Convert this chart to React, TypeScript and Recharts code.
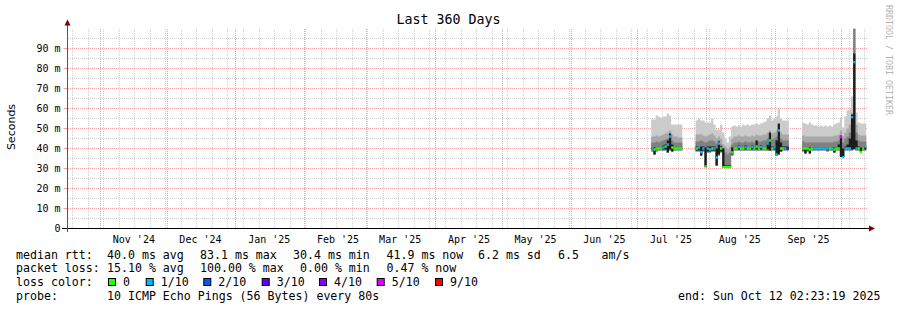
import React from 'react';
import { ComposedChart, Area, XAxis, YAxis, CartesianGrid } from 'recharts';

const TITLE = 'Last 360 Days';
const Y_LABEL = 'Seconds';
const WATERMARK = 'RRDTOOL / TOBI OETIKER';

// x axis: days since start of the 360-day window (Oct 17 2024 02:23)
const FIRST_DAY = 263;

// per-day smoke / median readings (ms), null = no data
const smokeHigh = [
  54.5, 54.5, 56.5, 56, 55.5, 56, 56, 57.5, 56.5, 52, 52, 52, 52, 52,
  null, null, null, null, null, null,
  54, 55, 54, 54, 53, 53, 53, 55, 52, 49.5, 49.5, 52, 48, 45, 43, 46, 51, 51.5, 51, 51.5,
  51, 52, 51.5, 52, 51.5, 52, 52, 52.5, 52, 52.5, 53, 53.5, 55, 56.5, 54, 55, 56, 60, 55, 54, 54, 54,
  null, null, null, null, null, null,
  53, 52.5, 52, 53, 52, 51.5, 51.5, 51, 51.5, 51, 51.5, 51, 51.5, 51, 52, 52.5, 53, 55.5, 50.5, 56,
  59, 60, 66, 100, 58, 53, 52.5, 52.5, 52.5,
];
const smokeMid = [
  46, 46, 46.5, 46, 46.5, 47, 47.5, 48, 49, 47, 46, 46, 45.5, 45.5,
  null, null, null, null, null, null,
  47, 47, 47, 46.5, 46, 46.5, 47, 47.5, 46.5, 45, 46, 45, 42, 41, 40, 41, 45, 46, 46, 46.5,
  46, 46, 46.5, 46, 46, 46.5, 46, 47, 46.5, 46.5, 47, 47, 48, 49, 47.5, 48, 49, 52, 48, 47, 47, 47,
  null, null, null, null, null, null,
  46.5, 46, 46, 46, 46, 46, 46, 46, 46, 46, 46, 46, 46, 46, 46.5, 46.5, 47, 49, 46, 48,
  50, 52, 58, 100, 52, 47, 46.5, 46.5, 46.5,
];
const smokeDark = [
  43, 43, 43.5, 43, 43.5, 44, 44.5, 45, 47, 44, 43, 43, 43, 43,
  null, null, null, null, null, null,
  43.5, 43.5, 44, 43.5, 43, 43.5, 44, 44, 43.5, 42.5, 44, 42, 40, 38, 37, 38, 42, 43, 43, 43.5,
  43, 43, 43.5, 43, 43, 43.5, 43, 44, 43.5, 43.5, 44, 44, 45, 46, 44.5, 45, 46, 49, 45, 44, 44, 44,
  null, null, null, null, null, null,
  43.5, 43, 43, 43, 43, 43, 43, 43, 43, 43, 43, 43, 43, 43, 43.5, 43.5, 44, 46, 43, 45,
  46, 48, 52, 100, 48, 44, 43.5, 43.5, 43.5,
];
const smokeLow = [
  38.5, 37, 38.5, 39, 39, 39, 39, 38, 39, 38.5, 39, 39, 39, 39,
  null, null, null, null, null, null,
  38.5, 38.5, 36.5, 38.5, 30.7, 38, 38, 38.5, 38.5, 31.5, 36.5, 38, 30.5, 30.5, 30.5, 30.5, 36.5, 39, 39, 39,
  39, 39, 39, 39, 39, 39, 39, 39, 39, 39, 39, 39, 39, 39, 39, 39, 36.5, 37, 38.5, 39, 39, 39,
  null, null, null, null, null, null,
  38.5, 37.5, 38.5, 37.5, 39, 39, 39, 39, 39, 39, 39, 38.5, 39, 39, 38, 39, 39, 35.7, 35.7, 39,
  39, 39, 39, 39.5, 39, 39, 38.3, 39, 39,
];
const coreLow = [
  39.5, 37, 39.5, 39.5, 39.5, 39.5, 39.5, 38, 39.5, 38.5, 39.5, 39.5, 39.5, 39.5,
  null, null, null, null, null, null,
  39, 39, 36.5, 39, 30.7, 38.5, 38.5, 39, 39, 31.5, 37, 38.5, 30.5, 30.5, 30.5, 30.5, 37, 39.5, 39.5, 39.5,
  39.5, 39.5, 39.5, 39.5, 39.5, 39.5, 39.5, 39.5, 39.5, 39.5, 39.5, 39.5, 39.5, 39, 39.5, 39.5, 36.5, 37, 38.5, 39.5, 39.5, 39.5,
  null, null, null, null, null, null,
  39, 37.5, 39, 37.5, 39.5, 39.5, 39.5, 39.5, 39.5, 39.5, 39.5, 39, 39.5, 39.5, 38, 39.5, 39.5, 35.7, 35.7, 39.5,
  39.5, 39.5, 39.5, 39.7, 39.5, 39.5, 38.3, 39.5, 39.5,
];
const coreHigh = [
  40.5, 40.5, 40.5, 40.5, 40.5, 41.5, 42, 44, 47.5, 42, 40.5, 40.5, 40.5, 40.5,
  null, null, null, null, null, null,
  41, 41, 41, 41, 40.5, 41, 41, 41, 41, 40, 43.5, 41, 40, 31.5, 31.5, 31.5, 40.5, 40.5, 40.5, 41.5,
  40.5, 40.5, 41.5, 40.5, 40.5, 41.5, 40.5, 44, 40.5, 41.5, 40.5, 40.5, 43, 48, 41, 41, 44, 52.5, 43, 41, 41, 41,
  null, null, null, null, null, null,
  40.5, 40.5, 40.5, 40.5, 40.5, 40.5, 40.5, 40.5, 40.5, 40.5, 40.5, 40.5, 40.5, 40.5, 40.5, 40.5, 42, 46.5, 40, 41,
  42, 45, 57, 87.5, 44, 41, 40.5, 40.5, 41,
];
const medianRtt = [
  40, 39.5, 40, 40, 40, 40.5, 41, 42, 46, 40.5, 40, 40, 40, 40,
  null, null, null, null, null, null,
  40, 40.5, 38.2, 40, 31, 40, 39.5, 40, 40, 35.5, 42.5, 40, 30.7, 30.7, 30.7, 30.7, 38, 40, 40, 40.7,
  40, 40, 40.5, 40, 40, 40.7, 40, 41, 40, 40.7, 40, 40, 42.5, 44, 40, 40.5, 37, 49, 40, 40, 40, 40,
  null, null, null, null, null, null,
  40, 40, 40, 39.5, 40, 40, 40, 40, 40, 40, 40, 40, 40, 40, 39.5, 40, 40, 45.7, 35.7, 40,
  40, 40, 55.7, 83.2, 40, 40, 38.3, 40, 41,
];
const lossLevel = [
  1, 0, 0, 0, 0, 1, 0, 1, 1, 0, 0, 0, 0, 0,
  null, null, null, null, null, null,
  0, 1, 1, 1, 0, 1, 1, 0, 1, 1, 1, 0, 0, 0, 0, 0, 0, 0, 0, 1,
  0, 0, 1, 0, 0, 1, 0, 0, 0, 1, 0, 0, 1, 0, 0, 1, 1, 1, 0, 0, 1, 3,
  null, null, null, null, null, null,
  0, 0, 0, 0, 0, 1, 1, 1, 1, 1, 1, 1, 0, 1, 0, 0, 0, 5, 1, 1,
  1, 1, 1, 1, 1, 0, 0, 0, 1,
];

const LOSS_LEVELS = [0, 1, 2, 3, 4, 5, 9];
const LOSS_LABELS = ['0', '1/10', '2/10', '3/10', '4/10', '5/10', '9/10'];
const LOSS_COLORS = ['#26ff00', '#00b8ff', '#0059ff', '#5e00ff', '#7e00ff', '#dd00ff', '#ff0000'];

const Y_TICKS = [0, 10, 20, 30, 40, 50, 60, 70, 80, 90];
const Y_MAJOR = [10, 20, 30, 40, 50, 60, 70, 80, 90];
const Y_MINOR = [5, 15, 25, 35, 45, 55, 65, 75, 85, 95];
const MONTH_STARTS = [14.9, 44.9, 75.9, 106.9, 134.9, 165.9, 195.9, 226.9, 256.9, 287.9, 318.9, 348.9];
const MONTH_LABEL_POS = [29.9, 59.9, 90.9, 121.9, 149.9, 180.9, 210.9, 241.9, 271.9, 302.9, 333.9];
const MONTH_LABELS = ["Nov '24", "Dec '24", "Jan '25", "Feb '25", "Mar '25", "Apr '25", "May '25", "Jun '25", "Jul '25", "Aug '25", "Sep '25"];
const FIRST_WEEK_LINE = 2.3;

const RTT_LABEL = 'median rtt:';
const RTT_STATS = ['40.0 ms avg', '83.1 ms max', '30.4 ms min', '41.9 ms now', '6.2 ms sd', '6.5', 'am/s'];
const LOSS_LABEL = 'packet loss:';
const LOSS_STATS = ['15.10 % avg', '100.00 % max', '0.00 % min', '0.47 % now'];
const COLOR_LABEL = 'loss color:';
const PROBE_LABEL = 'probe:';
const PROBE_TEXT = '10 ICMP Echo Pings (56 Bytes) every 80s';
const END_TEXT = 'end: Sun Oct 12 02:23:19 2025';

// layout
const RTT_X = [107, 200, 293, 386.5, 478, 558, 601.5];
const LOSS_X = [107, 200, 300, 386.5];
const BOX_X = [108, 145.7, 203.3, 261.7, 319, 376.7, 435];
const MEDIAN_HALF = 0.6;

const weekLines: number[] = [];
for (let d = FIRST_WEEK_LINE; d < 360; d += 7) weekLines.push(+d.toFixed(2));

const tableRows: any[] = [];
for (let i = 0; i < smokeHigh.length; i++) {
  const day = FIRST_DAY + i;
  const has = smokeHigh[i] != null;
  const mk = (x: number) => {
    const r: any = { x };
    r.light = has ? [smokeLow[i], smokeHigh[i]] : null;
    r.mid = has ? [smokeLow[i], smokeMid[i]] : null;
    r.dark = has ? [smokeLow[i], smokeDark[i]] : null;
    r.core = has ? [coreLow[i], coreHigh[i]] : null;
    LOSS_LEVELS.forEach((lv) => {
      r['m' + lv] = has && lossLevel[i] === lv
        ? [(medianRtt[i] as number) - MEDIAN_HALF, (medianRtt[i] as number) + MEDIAN_HALF]
        : null;
    });
    return r;
  };
  tableRows.push(mk(day), mk(day + 1));
}

const MONO = "'DejaVu Sans Mono', monospace";
const GRID_MINOR = '#d2d2d2';
const GRID_MAJOR = '#f4a6a6';
const ARROW = '#800000';

export default function App() {
  return (
    <div style={{ position: 'absolute', left: 0, top: 0, width: 897, height: 310, background: '#fff' }}>
      <style>{`.recharts-cartesian-grid line{shape-rendering:crispEdges}`}</style>
      <ComposedChart
        width={897}
        height={310}
        data={tableRows}
        margin={{ top: 28.5, right: 30.5, bottom: 61.5, left: 17.5 }}
      >
        <CartesianGrid
          stroke={GRID_MINOR}
          strokeDasharray="1 1"
          horizontalValues={Y_MINOR}
          verticalValues={weekLines}
        />
        <CartesianGrid
          stroke={GRID_MAJOR}
          strokeDasharray="1 1"
          horizontalValues={Y_MAJOR}
          verticalValues={MONTH_STARTS}
        />
        <XAxis
          type="number"
          dataKey="x"
          domain={[0, 360]}
          allowDataOverflow
          ticks={MONTH_LABEL_POS}
          interval={0}
          tickFormatter={(v: number) => MONTH_LABELS[MONTH_LABEL_POS.indexOf(v)] ?? ''}
          tickLine={false}
          tickSize={4}
          tickMargin={3}
          height={20}
          axisLine={{ stroke: '#000' }}
          tick={{ fontSize: 10, fill: '#000', fontFamily: MONO }}
        />
        <YAxis
          type="number"
          domain={[0, 100]}
          allowDataOverflow
          ticks={Y_TICKS}
          interval={0}
          width={50}
          tickSize={4}
          tickMargin={3}
          tickLine={{ stroke: GRID_MAJOR }}
          axisLine={{ stroke: '#555' }}
          tickFormatter={(v: number) => (v === 0 ? '0' : `${v} m`)}
          tick={{ fontSize: 10, fill: '#000', fontFamily: MONO }}
        />
        <Area type="linear" dataKey="light" stroke="none" fill="#cbcbcb" fillOpacity={1} isAnimationActive={false} dot={false} activeDot={false} />
        <Area type="linear" dataKey="mid" stroke="none" fill="#a8a8a8" fillOpacity={1} isAnimationActive={false} dot={false} activeDot={false} />
        <Area type="linear" dataKey="dark" stroke="none" fill="#808080" fillOpacity={1} isAnimationActive={false} dot={false} activeDot={false} />
        <Area type="linear" dataKey="core" stroke="none" fill="#1c1c1c" fillOpacity={1} isAnimationActive={false} dot={false} activeDot={false} />
        {LOSS_LEVELS.map((lv, k) => (
          <Area key={lv} type="linear" dataKey={'m' + lv} stroke="none" fill={LOSS_COLORS[k]} fillOpacity={1} isAnimationActive={false} dot={false} activeDot={false} />
        ))}
      </ComposedChart>
      <svg width={897} height={310} style={{ position: 'absolute', left: 0, top: 0, pointerEvents: 'none' }}>
        <line x1={62} y1={228.5} x2={869} y2={228.5} stroke="#000" />
        <line x1={67.5} y1={24} x2={67.5} y2={232} stroke="#555" />
        <polygon points="64.5,25.5 70.5,25.5 67.5,19.5" fill={ARROW} />
        <polygon points="869,225.5 869,231.5 875,228.5" fill={ARROW} />
        <text x={448.5} y={24} textAnchor="middle" fontFamily={MONO} fontSize={13.3} fill="#000">{TITLE}</text>
        <text transform="translate(15,127) rotate(-90)" textAnchor="middle" fontFamily="'DejaVu Sans', sans-serif" fontSize={11} fill="#000">{Y_LABEL}</text>
        <text transform="translate(885.5,60) rotate(90)" textAnchor="middle" fontFamily={MONO} fontSize={8.3} fill="#b4b4b4">{WATERMARK}</text>
        <g fontFamily={MONO} fontSize={11.6} fill="#000">
          <text x={16} y={258.5}>{RTT_LABEL}</text>
          {RTT_STATS.map((s, i) => (
            <text key={'r' + i} x={RTT_X[i]} y={258.5}>{s}</text>
          ))}
          <text x={16} y={272.3}>{LOSS_LABEL}</text>
          {LOSS_STATS.map((s, i) => (
            <text key={'l' + i} x={LOSS_X[i]} y={272.3}>{s}</text>
          ))}
          <text x={16} y={286.1}>{COLOR_LABEL}</text>
          {LOSS_LABELS.map((s, i) => (
            <g key={'c' + i}>
              <rect x={BOX_X[i] + 0.5} y={278.5} width={7} height={7} fill={LOSS_COLORS[i]} stroke="#000" />
              <text x={BOX_X[i] + 15} y={286.1}>{s}</text>
            </g>
          ))}
          <text x={16} y={299.9}>{PROBE_LABEL}</text>
          <text x={107} y={299.9}>{PROBE_TEXT}</text>
          <text x={678} y={299.9}>{END_TEXT}</text>
        </g>
      </svg>
    </div>
  );
}
